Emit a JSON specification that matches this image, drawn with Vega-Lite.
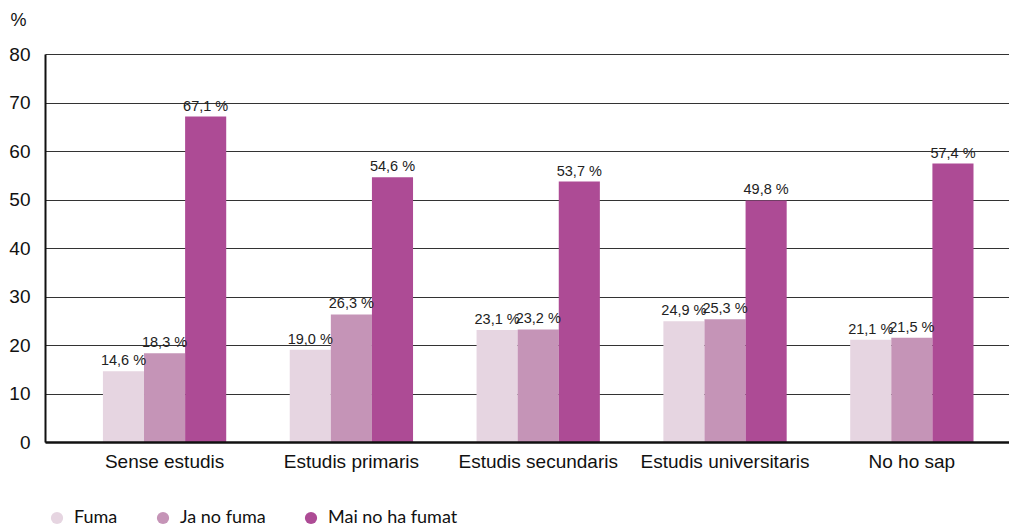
{
  "$schema": "https://vega.github.io/schema/vega-lite/v6.json",
  "autosize": "none",
  "width": 964,
  "height": 388,
  "padding": {"left": 45, "top": 54, "right": 0, "bottom": 87},
  "background": "white",
  "config": {
    "view": {"stroke": null},
    "font": "Liberation Sans",
    "axis": {"labelFont": "Liberation Sans", "titleFont": "Liberation Sans"},
    "text": {"font": "Liberation Sans"}
  },
  "data": {
    "values": [
      {"nivell": "Sense estudis", "grup": "Fuma", "valor": 14.6, "etiqueta": "14,6 %"},
      {"nivell": "Sense estudis", "grup": "Ja no fuma", "valor": 18.3, "etiqueta": "18,3 %"},
      {"nivell": "Sense estudis", "grup": "Mai no ha fumat", "valor": 67.1, "etiqueta": "67,1 %"},
      {"nivell": "Estudis primaris", "grup": "Fuma", "valor": 19.0, "etiqueta": "19,0 %"},
      {"nivell": "Estudis primaris", "grup": "Ja no fuma", "valor": 26.3, "etiqueta": "26,3 %"},
      {"nivell": "Estudis primaris", "grup": "Mai no ha fumat", "valor": 54.6, "etiqueta": "54,6 %"},
      {"nivell": "Estudis secundaris", "grup": "Fuma", "valor": 23.1, "etiqueta": "23,1 %"},
      {"nivell": "Estudis secundaris", "grup": "Ja no fuma", "valor": 23.2, "etiqueta": "23,2 %"},
      {"nivell": "Estudis secundaris", "grup": "Mai no ha fumat", "valor": 53.7, "etiqueta": "53,7 %"},
      {"nivell": "Estudis universitaris", "grup": "Fuma", "valor": 24.9, "etiqueta": "24,9 %"},
      {"nivell": "Estudis universitaris", "grup": "Ja no fuma", "valor": 25.3, "etiqueta": "25,3 %"},
      {"nivell": "Estudis universitaris", "grup": "Mai no ha fumat", "valor": 49.8, "etiqueta": "49,8 %"},
      {"nivell": "No ho sap", "grup": "Fuma", "valor": 21.1, "etiqueta": "21,1 %"},
      {"nivell": "No ho sap", "grup": "Ja no fuma", "valor": 21.5, "etiqueta": "21,5 %"},
      {"nivell": "No ho sap", "grup": "Mai no ha fumat", "valor": 57.4, "etiqueta": "57,4 %"}
    ]
  },
  "encoding": {
    "x": {
      "field": "nivell",
      "type": "nominal",
      "sort": null,
      "scale": {"paddingInner": 0.34, "paddingOuter": 0.25, "align": 0.62},
      "axis": {
        "title": null,
        "labelAngle": 0,
        "labelFont": "Liberation Sans",
        "labelFontSize": 19,
        "labelColor": "#111111",
        "labelPadding": 10,
        "ticks": false,
        "domainColor": "#111111",
        "domainWidth": 2.5,
        "zindex": 2
      }
    },
    "xOffset": {"field": "grup", "type": "nominal", "sort": ["Fuma", "Ja no fuma", "Mai no ha fumat"], "scale": {"paddingInner": 0, "paddingOuter": 0}},
    "y": {
      "field": "valor",
      "type": "quantitative",
      "scale": {"domain": [0, 80], "nice": false},
      "axis": {
        "title": "%",
        "titleFont": "Liberation Sans",
        "titleAngle": 0,
        "titleFontSize": 18,
        "titleFontWeight": "normal",
        "titleColor": "#111111",
        "titleAlign": "left",
        "titleBaseline": "middle",
        "titleX": -35,
        "titleY": -34,
        "values": [0, 10, 20, 30, 40, 50, 60, 70, 80],
        "labelFont": "Liberation Sans",
        "labelFontSize": 19,
        "labelColor": "#111111",
        "labelPadding": 15,
        "ticks": false,
        "domainColor": "#111111",
        "domainWidth": 2,
        "grid": true,
        "gridColor": "#333333",
        "gridWidth": 1.2
      }
    }
  },
  "layer": [
    {
      "mark": {"type": "bar"},
      "encoding": {
        "color": {
          "field": "grup",
          "type": "nominal",
          "sort": ["Fuma", "Ja no fuma", "Mai no ha fumat"],
          "scale": {"domain": ["Fuma", "Ja no fuma", "Mai no ha fumat"], "range": ["#E6D5E1", "#C594B7", "#AD4B95"]},
          "legend": {
            "title": null,
            "orient": "none",
            "direction": "horizontal",
            "legendX": 3,
            "legendY": 455,
            "symbolType": "circle",
            "symbolSize": 150,
            "symbolStrokeWidth": 0,
            "labelFont": "Lato",
            "labelFontSize": 18,
            "labelColor": "#111111",
            "labelOffset": 8,
            "columnPadding": 36
          }
        }
      }
    },
    {
      "mark": {"type": "text", "baseline": "alphabetic", "dy": -6, "font": "Liberation Sans", "fontSize": 14.5, "color": "#222222"},
      "encoding": {"text": {"field": "etiqueta"}}
    }
  ]
}
